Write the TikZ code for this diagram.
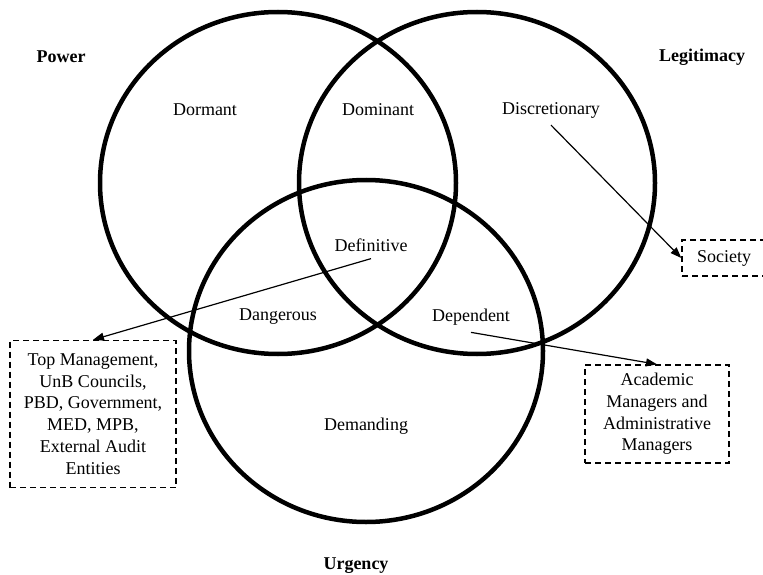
\documentclass[tikz,border=0pt]{standalone}
\usepackage{fontspec}
\setmainfont{Liberation Serif}
\usepackage{tikz}
\usetikzlibrary{arrows.meta}

\begin{document}
\begin{tikzpicture}[x=1pt,y=-1pt,
  every node/.style={font=\fontsize{18}{21.7}\selectfont},
  ring/.style={line width=4.5pt},
  area/.style={inner sep=7pt},
  attr/.style={font=\fontsize{18}{21.7}\selectfont\bfseries},
  group/.style={draw,line width=1.4pt,dash pattern=on 6pt off 4pt,align=center,inner sep=0pt},
  pointer/.style={line width=1.2pt,-{Triangle[length=11pt,width=8pt]}}]
\useasboundingbox (0,0) rectangle (763,575);
\clip (0,0) rectangle (763,575);
\draw [ring] (278,183) ellipse [x radius=178pt, y radius=171pt];
\draw [ring] (477,183) ellipse [x radius=178pt, y radius=171pt];
\draw [ring] (366,351) ellipse [x radius=177pt, y radius=171pt];
\node (pow) at ( 61,57) [attr] {Power};
\node (leg) at (702,57) [attr] {Legitimacy};
\node (urg) at (356,566) [attr] {Urgency};
\node (dorm) at (205,110) [area] {Dormant};
\node (domi) at (378,110) [area] {Dominant};
\node (disc) at (551,110) [area] {Discretionary};
\node (defi) at (371,245) [area] {Definitive};
\node (dang) at (278,317) [area] {Dangerous};
\node (depe) at (471,317) [area] {Dependent};
\node (dema) at (366,426) [area] {Demanding};
\node (soc) at (724,258) [group,minimum width=84pt,minimum height=36pt] {Society};
\node (top) at ( 93,414) [group,minimum width=166pt,minimum height=147pt]
  {Top Management,\\UnB Councils,\\PBD, Government,\\MED, MPB,\\External Audit\\Entities};
\node (acad) at (657,414) [group,minimum width=144pt,minimum height=98pt]
  {Academic\\Managers and\\Administrative\\Managers};
\draw [pointer] (disc.south) -- (soc.west);
\draw [pointer] (defi.south) -- (top.north);
\draw [pointer] (depe.south) -- (acad.north);
\end{tikzpicture}
\end{document}
